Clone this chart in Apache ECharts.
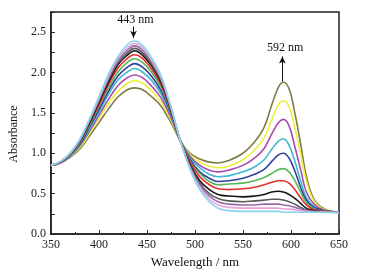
<!DOCTYPE html>
<html>
<head>
<meta charset="utf-8">
<script src="https://cdn.jsdelivr.net/npm/echarts@6/dist/echarts.min.js"></script>
<style>
  html, body { margin: 0; padding: 0; background: #fff; }
  #chart { width: 366px; height: 275px; }
</style>
</head>
<body>
<div id="chart"></div>
<script>
// wavelengths (nm) where the spectra were read
const wavelengths = [350, 360, 370, 380, 390, 400, 410, 420, 430, 437, 445, 455, 465, 475, 485,
  495, 505, 515, 524, 535, 550, 562, 572, 580, 587, 592, 598, 604, 610, 616, 624, 635, 650];

// absorbance of each spectrum (top at 592 nm first)
const olive   = [0.85, 0.88, 0.95, 1.05, 1.21, 1.38, 1.55, 1.70, 1.79, 1.81, 1.79, 1.70, 1.58, 1.38, 1.15,
  1.00, 0.93, 0.89, 0.88, 0.91, 1.00, 1.14, 1.32, 1.60, 1.82, 1.88, 1.80, 1.50, 1.12, 0.72, 0.43, 0.31, 0.27];
const yellow  = [0.85, 0.88, 0.96, 1.07, 1.24, 1.43, 1.62, 1.77, 1.87, 1.90, 1.87, 1.77, 1.63, 1.41, 1.15,
  0.98, 0.89, 0.84, 0.82, 0.84, 0.92, 1.04, 1.19, 1.42, 1.60, 1.65, 1.58, 1.32, 1.00, 0.66, 0.41, 0.30, 0.27];
const magenta = [0.85, 0.88, 0.96, 1.09, 1.27, 1.47, 1.67, 1.84, 1.94, 1.97, 1.94, 1.83, 1.68, 1.44, 1.15,
  0.96, 0.85, 0.79, 0.77, 0.79, 0.85, 0.94, 1.06, 1.24, 1.38, 1.42, 1.34, 1.08, 0.80, 0.52, 0.37, 0.29, 0.27];
const cyan    = [0.85, 0.89, 0.97, 1.10, 1.29, 1.51, 1.73, 1.91, 2.01, 2.05, 2.01, 1.90, 1.73, 1.47, 1.15,
  0.94, 0.82, 0.74, 0.71, 0.72, 0.77, 0.83, 0.92, 1.05, 1.15, 1.18, 1.10, 0.90, 0.66, 0.45, 0.34, 0.28, 0.27];
const blue    = [0.85, 0.89, 0.98, 1.11, 1.32, 1.54, 1.77, 1.96, 2.07, 2.11, 2.07, 1.95, 1.77, 1.49, 1.15,
  0.92, 0.77, 0.69, 0.65, 0.66, 0.69, 0.74, 0.80, 0.90, 0.98, 1.00, 0.94, 0.78, 0.58, 0.42, 0.33, 0.29, 0.27];
const green   = [0.85, 0.89, 0.98, 1.13, 1.34, 1.58, 1.81, 2.01, 2.13, 2.17, 2.13, 2.00, 1.81, 1.51, 1.15,
  0.90, 0.75, 0.65, 0.61, 0.62, 0.63, 0.66, 0.70, 0.75, 0.80, 0.81, 0.77, 0.66, 0.52, 0.39, 0.31, 0.28, 0.27];
const red     = [0.85, 0.89, 0.99, 1.14, 1.36, 1.60, 1.85, 2.06, 2.18, 2.22, 2.18, 2.04, 1.84, 1.52, 1.15,
  0.89, 0.71, 0.61, 0.56, 0.55, 0.56, 0.58, 0.61, 0.64, 0.66, 0.66, 0.63, 0.55, 0.45, 0.36, 0.30, 0.28, 0.27];
const black   = [0.85, 0.89, 0.99, 1.15, 1.37, 1.63, 1.88, 2.10, 2.22, 2.27, 2.22, 2.08, 1.87, 1.54, 1.15,
  0.86, 0.66, 0.55, 0.49, 0.47, 0.46, 0.47, 0.49, 0.52, 0.53, 0.52, 0.49, 0.44, 0.38, 0.32, 0.29, 0.27, 0.27];
const gray    = [0.85, 0.89, 0.99, 1.15, 1.39, 1.65, 1.91, 2.12, 2.25, 2.30, 2.25, 2.10, 1.89, 1.55, 1.15,
  0.84, 0.63, 0.50, 0.44, 0.41, 0.40, 0.41, 0.42, 0.43, 0.43, 0.42, 0.40, 0.37, 0.33, 0.30, 0.28, 0.27, 0.27];
const violet  = [0.85, 0.89, 1.00, 1.16, 1.40, 1.66, 1.93, 2.15, 2.28, 2.33, 2.28, 2.13, 1.91, 1.56, 1.15,
  0.83, 0.60, 0.47, 0.40, 0.37, 0.36, 0.36, 0.37, 0.37, 0.37, 0.36, 0.35, 0.33, 0.31, 0.29, 0.28, 0.27, 0.27];
const pink    = [0.85, 0.90, 1.00, 1.17, 1.41, 1.68, 1.95, 2.18, 2.31, 2.36, 2.31, 2.15, 1.93, 1.57, 1.15,
  0.81, 0.58, 0.43, 0.36, 0.33, 0.32, 0.32, 0.32, 0.32, 0.32, 0.31, 0.31, 0.30, 0.29, 0.28, 0.27, 0.27, 0.27];
const ltcyan  = [0.85, 0.90, 1.00, 1.17, 1.42, 1.70, 1.98, 2.20, 2.35, 2.39, 2.34, 2.18, 1.95, 1.58, 1.15,
  0.80, 0.55, 0.40, 0.32, 0.29, 0.28, 0.28, 0.28, 0.28, 0.28, 0.27, 0.27, 0.27, 0.27, 0.27, 0.27, 0.27, 0.26];

const spectra = [
  { data: olive,   color: '#7e7d48' },
  { data: yellow,  color: '#eeee3e' },
  { data: magenta, color: '#a94aab' },
  { data: cyan,    color: '#42b7d2' },
  { data: blue,    color: '#2d409c' },
  { data: green,   color: '#5ab45a' },
  { data: red,     color: '#e5312b' },
  { data: black,   color: '#151515' },
  { data: gray,    color: '#5a5a5a' },
  { data: violet,  color: '#9a6aa8' },
  { data: pink,    color: '#e6a2dc' },
  { data: ltcyan,  color: '#86d4ea' }
];

// peak annotations: [label, arrow x, arrow from, arrow to, label y]
const peak1 = ['443 nm', 436, 2.57, 2.43, 2.65];
const peak2 = ['592 nm', 591, 1.89, 2.2, 2.31];

const font = '"Liberation Serif", "DejaVu Serif", serif';

const chart = echarts.init(document.getElementById('chart'));

const series = spectra.map(s => ({
  type: 'line',
  data: wavelengths.map((w, i) => [w, s.data[i]]),
  showSymbol: false,
  smooth: 0.4,
  lineStyle: { color: s.color, width: 1.6 },
  itemStyle: { color: s.color },
  z: 3
}));

// arrows + labels
series.push({
  type: 'line',
  data: [],
  silent: true,
  markLine: {
    silent: true,
    symbol: ['none', 'arrow'],
    symbolSize: [5, 7],
    lineStyle: { color: '#111', width: 1, type: 'solid' },
    label: { show: false },
    data: [
      [{ coord: [peak1[1], peak1[2]] }, { coord: [peak1[1], peak1[3]] }],
      [{ coord: [peak2[1], peak2[2]] }, { coord: [peak2[1], peak2[3]] }]
    ]
  },
  markPoint: {
    silent: true,
    symbol: 'circle',
    symbolSize: 1,
    itemStyle: { color: 'rgba(0,0,0,0)' },
    label: {
      show: true, position: 'inside', color: '#111',
      fontFamily: font, fontSize: 12, formatter: p => p.name
    },
    data: [
      { name: peak1[0], coord: [peak1[1] + 2, peak1[4]] },
      { name: peak2[0], coord: [peak2[1] + 3, peak2[4]] }
    ]
  }
});

chart.setOption({
  animation: false,
  backgroundColor: '#fff',
  grid: {
    left: 47, right: 27, top: 12, bottom: 41,
    show: true, borderColor: '#222', borderWidth: 1.5, backgroundColor: 'transparent'
  },
  xAxis: {
    type: 'value',
    min: 350, max: 650, interval: 50,
    name: 'Wavelength / nm',
    nameLocation: 'middle',
    nameGap: 22,
    nameTextStyle: { fontFamily: font, fontSize: 13, color: '#111' },
    axisLine: { lineStyle: { color: '#222', width: 1.5 } },
    axisTick: { inside: true, length: 4, lineStyle: { color: '#222' } },
    minorTick: { show: true, splitNumber: 2, length: 2, lineStyle: { color: '#222' } },
    axisLabel: { fontFamily: font, fontSize: 12, color: '#222', margin: 5 },
    splitLine: { show: false }
  },
  yAxis: {
    type: 'value',
    min: 0, max: 2.75, interval: 0.25,
    name: 'Absorbance',
    nameLocation: 'middle',
    nameGap: 28,
    nameTextStyle: { fontFamily: font, fontSize: 12, color: '#111', padding: [0, 22, 0, 0] },
    axisLine: { lineStyle: { color: '#222', width: 1.5 } },
    axisTick: { inside: true, length: 4, lineStyle: { color: '#222' } },
    axisLabel: {
      fontFamily: font, fontSize: 12, color: '#222', margin: 5,
      formatter: v => (Math.abs(v * 2 - Math.round(v * 2)) < 1e-6 && v < 2.7) ? v.toFixed(1) : ''
    },
    splitLine: { show: false }
  },
  series: series
});
</script>
</body>
</html>
